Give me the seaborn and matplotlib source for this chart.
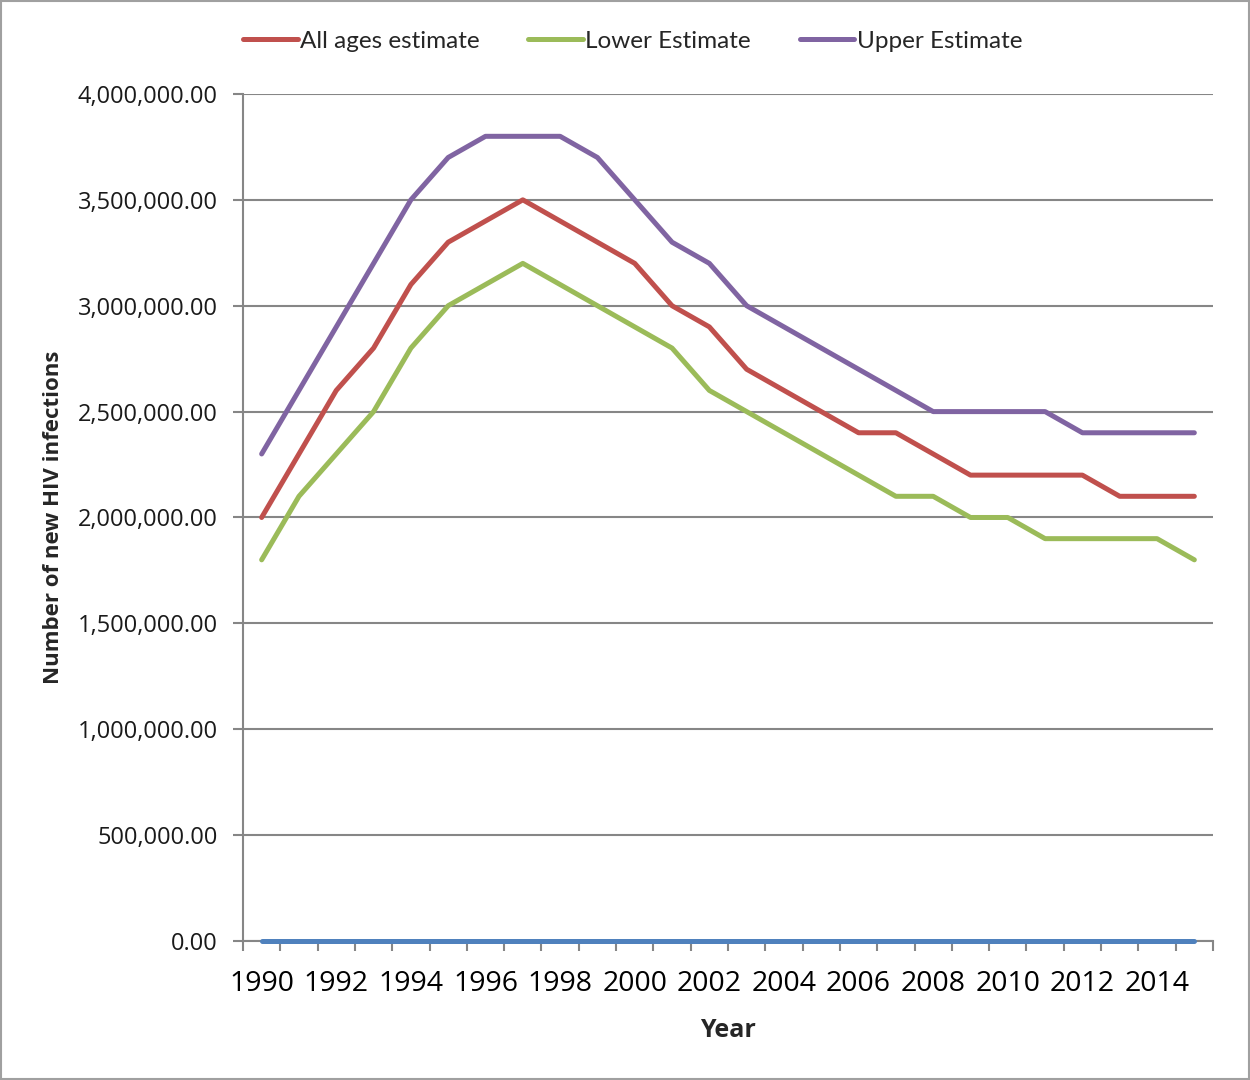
import pandas as pd
import matplotlib.pyplot as plt
import matplotlib.ticker as mticker
from matplotlib.patches import Rectangle
import seaborn as sns

# Dados
anos = [1990, 1991, 1992, 1993, 1994, 1995, 1996, 1997, 1998, 1999, 2000, 2001, 2002,
        2003, 2004, 2005, 2006, 2007, 2008, 2009, 2010, 2011, 2012, 2013, 2014, 2015]
rotulos_x = [1990, 1992, 1994, 1996, 1998, 2000, 2002, 2004, 2006, 2008, 2010, 2012, 2014]
estimativa = [2.0, 2.3, 2.6, 2.8, 3.1, 3.3, 3.4, 3.5, 3.4, 3.3, 3.2, 3.0, 2.9,
              2.7, 2.6, 2.5, 2.4, 2.4, 2.3, 2.2, 2.2, 2.2, 2.2, 2.1, 2.1, 2.1]
inferior = [1.8, 2.1, 2.3, 2.5, 2.8, 3.0, 3.1, 3.2, 3.1, 3.0, 2.9, 2.8, 2.6,
            2.5, 2.4, 2.3, 2.2, 2.1, 2.1, 2.0, 2.0, 1.9, 1.9, 1.9, 1.9, 1.8]
superior = [2.3, 2.6, 2.9, 3.2, 3.5, 3.7, 3.8, 3.8, 3.8, 3.7, 3.5, 3.3, 3.2,
            3.0, 2.9, 2.8, 2.7, 2.6, 2.5, 2.5, 2.5, 2.5, 2.4, 2.4, 2.4, 2.4]
linha_base = [0, 0, 0, 0, 0, 0, 0, 0, 0, 0, 0, 0, 0,
              0, 0, 0, 0, 0, 0, 0, 0, 0, 0, 0, 0, 0]
series = ['All ages estimate', 'Lower Estimate', 'Upper Estimate']
cores = ['#C0504D', '#9BBB59', '#8064A2']
cor_base = '#4F81BD'
cinza = '#868686'

dados = pd.DataFrame({
    'ano': anos * 3,
    'valor': [v * 1e6 for v in estimativa + inferior + superior],
    'serie': [series[0]] * len(anos) + [series[1]] * len(anos) + [series[2]] * len(anos),
})
base = pd.DataFrame({'ano': anos, 'valor': linha_base})

sns.set_style('white')
plt.rcParams['font.family'] = ['Open Sans', 'DejaVu Sans']

fig = plt.figure(figsize=(12.5, 10.8), dpi=100)
ax = fig.add_axes([0.1944, 0.1287, 0.776, 0.7843])

# Linhas principais
sns.lineplot(data=base, x='ano', y='valor', color=cor_base, linewidth=3.6,
             legend=False, ax=ax, zorder=5, clip_on=False)
sns.lineplot(data=dados, x='ano', y='valor', hue='serie', hue_order=series,
             palette=cores, linewidth=3.6, ax=ax, zorder=4)

# Eixos
ax.set_xlim(1989.5, 2015.5)
ax.set_ylim(0, 4_000_000)
ax.yaxis.set_major_locator(mticker.MultipleLocator(500_000))
ax.yaxis.set_major_formatter(mticker.FuncFormatter(lambda v, p: f'{v:,.2f}'))
ax.set_xticks(rotulos_x)
ax.set_xticks([a - 0.5 for a in anos] + [anos[-1] + 0.5], minor=True)
ax.grid(axis='y', color=cinza, linewidth=1.5, zorder=1)
ax.set_axisbelow(True)
for lado in ['top', 'right']:
    ax.spines[lado].set_visible(False)
for lado in ['left', 'bottom']:
    ax.spines[lado].set_color(cinza)
    ax.spines[lado].set_linewidth(1.5)
ax.tick_params(axis='x', which='major', bottom=True, length=0, pad=21,
               labelsize=20.5, labelcolor='black')
ax.tick_params(axis='x', which='minor', bottom=True, length=7, width=1.5,
               color=cinza, direction='out')
ax.tick_params(axis='y', left=True, length=7, width=1.5, color=cinza, direction='out',
               labelsize=17, labelcolor='#1a1a1a', pad=11)

ax.set_xlabel('Year', fontsize=18, fontweight='bold', labelpad=14)
ax.set_ylabel('Number of new HIV infections', fontsize=16, fontweight='bold', labelpad=10)

# Legenda
handles, labels = ax.get_legend_handles_labels()
ax.legend(handles, labels, loc='center', bbox_to_anchor=(0.506, 0.962),
          bbox_transform=fig.transFigure, ncol=3, frameon=False,
          handlelength=2.25, handletextpad=0.1, columnspacing=2.0,
          prop={'family': 'Lato', 'size': 17.5})

# Moldura da figura
fig.patches.append(Rectangle((0.001, 0.001), 0.998, 0.998, transform=fig.transFigure,
                             fill=False, edgecolor='#A0A0A0', linewidth=1.5))

fig.savefig('out.png', dpi=100)
